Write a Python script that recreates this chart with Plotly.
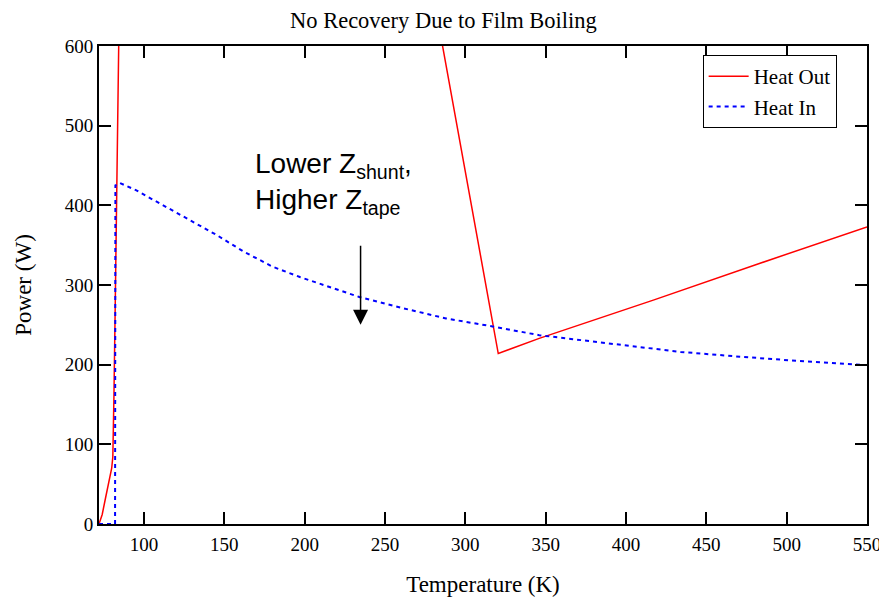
import plotly.graph_objects as go

# Heat Out (red, solid) - two branches separated by a gap (values above 600 are off-scale)
heat_out_x = [72, 74, 76, 78, 79.9, 80.6, 80.8, 81.3, 82.0, 82.8, 83.5, 84.3, 84.6,
              None,
              280, 285.8, 320.5, 346, 417, 483, 550]
heat_out_y = [0, 12, 32, 50, 70, 84, 100, 160, 260, 369, 480, 600, 650,
              None,
              665, 600, 214, 233, 281, 327, 373]

# Heat In (blue, dotted)
heat_in_x = [72, 82, 82.2, 85, 95, 114, 128.5, 145, 162, 180, 197, 218, 234, 261,
             288, 317, 346, 367, 398, 434, 471, 512, 550]
heat_in_y = [0, 0, 425, 428, 419, 398, 381, 363, 342, 323, 310, 296, 285, 271,
             258, 248, 237, 232, 225, 216, 210, 204, 199.5]

x_ticks = [100, 150, 200, 250, 300, 350, 400, 450, 500, 550]
y_ticks = [0, 100, 200, 300, 400, 500, 600]

serif = "Times New Roman, Liberation Serif, serif"

fig = go.Figure()
fig.add_trace(go.Scatter(x=heat_out_x, y=heat_out_y, mode="lines", name="Heat Out",
                         line=dict(color="#FF0000", width=1.5), connectgaps=False))
fig.add_trace(go.Scatter(x=heat_in_x, y=heat_in_y, mode="lines", name="Heat In",
                         line=dict(color="#0000FF", width=2, dash="4px,4px")))

axis_common = dict(showline=True, linecolor="black", linewidth=2, mirror="ticks",
                   ticks="inside", ticklen=12, tickwidth=1.5, tickcolor="black",
                   showgrid=False, zeroline=False, automargin=False,
                   tickfont=dict(family=serif, size=19, color="black"))

fig.update_xaxes(range=[72, 550], tickvals=x_ticks, ticklabelstandoff=2,
                 title=dict(text="Temperature (K)", font=dict(family=serif, size=23, color="black"),
                            standoff=24),
                 **axis_common)
fig.update_yaxes(range=[0, 600], tickvals=y_ticks,
                 title=dict(text="Power (W)", font=dict(family=serif, size=23, color="black"),
                            standoff=27),
                 **axis_common)

fig.add_annotation(x=167.7, y=428, xref="x", yref="y", xanchor="left", yanchor="middle",
                   text="Lower Z<sub>shunt</sub>,<br>Higher Z<sub>tape</sub>",
                   showarrow=False, align="left",
                   font=dict(family="Arial, Liberation Sans, sans-serif", size=28, color="black"))
fig.add_annotation(x=234.8, y=250, ax=234.8, ay=351, xref="x", yref="y", axref="x", ayref="y",
                   text="", showarrow=True, arrowhead=2, arrowsize=2, arrowwidth=1.5,
                   arrowcolor="black")

# page body has an 8px margin, so the figure is sized/offset to land on the 887x597 window
fig.update_layout(
    width=879, height=589,
    margin=dict(l=91, r=20, t=38, b=73, autoexpand=False),
    paper_bgcolor="white", plot_bgcolor="white",
    title=dict(text="No Recovery Due to Film Boiling", x=0.4954, xanchor="center",
               xref="container", y=0.9796, yref="container", yanchor="middle",
               font=dict(family=serif, size=22.5, color="black")),
    legend=dict(x=0.786, y=0.981, xanchor="left", yanchor="top",
                bgcolor="white", bordercolor="black", borderwidth=1,
                font=dict(family=serif, size=21, color="black"),
                itemwidth=40, tracegroupgap=0),
    showlegend=True,
)

fig.write_html("out.html")
